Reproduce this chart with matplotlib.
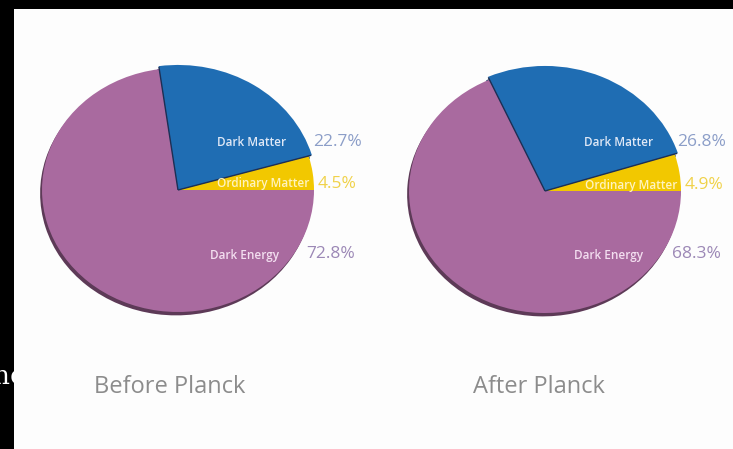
import matplotlib
matplotlib.use("Agg")
import numpy as np
import matplotlib.pyplot as plt
from matplotlib.patches import Rectangle

# data
components = ["Ordinary Matter", "Dark Matter", "Dark Energy"]
before_vals = [4.5, 22.7, 72.8]
after_vals = [4.9, 26.8, 68.3]
before_pct = ["4.5%", "22.7%", "72.8%"]
after_pct = ["4.9%", "26.8%", "68.3%"]
titles = ["Before Planck", "After Planck"]

slice_colors = ["#f2c800", "#1f6db3", "#a96a9f"]
label_colors = ["#fff3bf", "#dfe8f6", "#f3def0"]
pct_colors = ["#f0d24a", "#8c9ec8", "#9c88b6"]

W, H = 733, 449
fig = plt.figure(figsize=(W / 100, H / 100), dpi=100, facecolor="black")

# background (pixel coords)
bg = fig.add_axes([0, 0, 1, 1])
bg.set_xlim(0, W)
bg.set_ylim(H, 0)
bg.axis("off")
bg.text(-7, 376, "nc", color="white", fontsize=19, family="DejaVu Serif",
        va="center", ha="left", zorder=0)
bg.add_patch(Rectangle((14, 9), W - 14, H - 9, facecolor="#fdfdfd",
                       edgecolor="none", zorder=1))

# pies: one unit = RX px across, RY px up
RX, RY = 136.0, 122.0
pa = fig.add_axes([0, 0, 1, 1])
pa.patch.set_alpha(0)
centers = [(178, 190), (545, 191)]
for (cx, cy), vals in zip(centers, [before_vals, after_vals]):
    c = (cx / RX, (H - cy) / RY)
    wedges, _ = pa.pie(vals, colors=slice_colors, startangle=0,
                       center=c, radius=1.0, frame=True,
                       shadow={"ox": -0.01, "oy": -0.02, "shade": 0.45,
                               "alpha": 1.0},
                       wedgeprops={"linewidth": 0})
    wedges[1].set_radius(1.025)
    # dark seams along the blue slice's straight edges
    for ang in (wedges[1].theta1, wedges[1].theta2):
        a = np.deg2rad(ang)
        pa.plot([c[0], c[0] + 1.02 * np.cos(a)], [c[1], c[1] + 1.02 * np.sin(a)],
                color="#1d2f55", lw=1.0, solid_capstyle="butt", zorder=5)
pa.set_aspect("auto")
pa.set_xlim(0, W / RX)
pa.set_ylim(0, H / RY)
pa.axis("off")

# texts (pixel coords)
tx = fig.add_axes([0, 0, 1, 1])
tx.patch.set_alpha(0)
tx.set_xlim(0, W)
tx.set_ylim(H, 0)
tx.axis("off")

label_pos = [[(263, 184), (252, 142), (244, 255)],
             [(631, 185), (619, 142), (609, 255)]]
pct_pos = [[(337, 184), (338, 142), (331, 254)],
           [(704, 185), (702, 142), (696, 254)]]
for i, pcts in enumerate([before_pct, after_pct]):
    for j in range(3):
        lx, ly = label_pos[i][j]
        tx.text(lx, ly, components[j], color=label_colors[j], fontsize=8.5,
                family="Open Sans", weight="semibold", ha="center", va="center")
        px, py = pct_pos[i][j]
        tx.text(px, py, pcts[j], color=pct_colors[j], fontsize=12.5,
                family="Open Sans", ha="center", va="center")

title_x = [170, 539]
for x, t in zip(title_x, titles):
    tx.text(x, 387, t, color="#8c8c8c", fontsize=17, family="Open Sans",
            ha="center", va="center")

fig.savefig("out.png", dpi=100, facecolor="black")
